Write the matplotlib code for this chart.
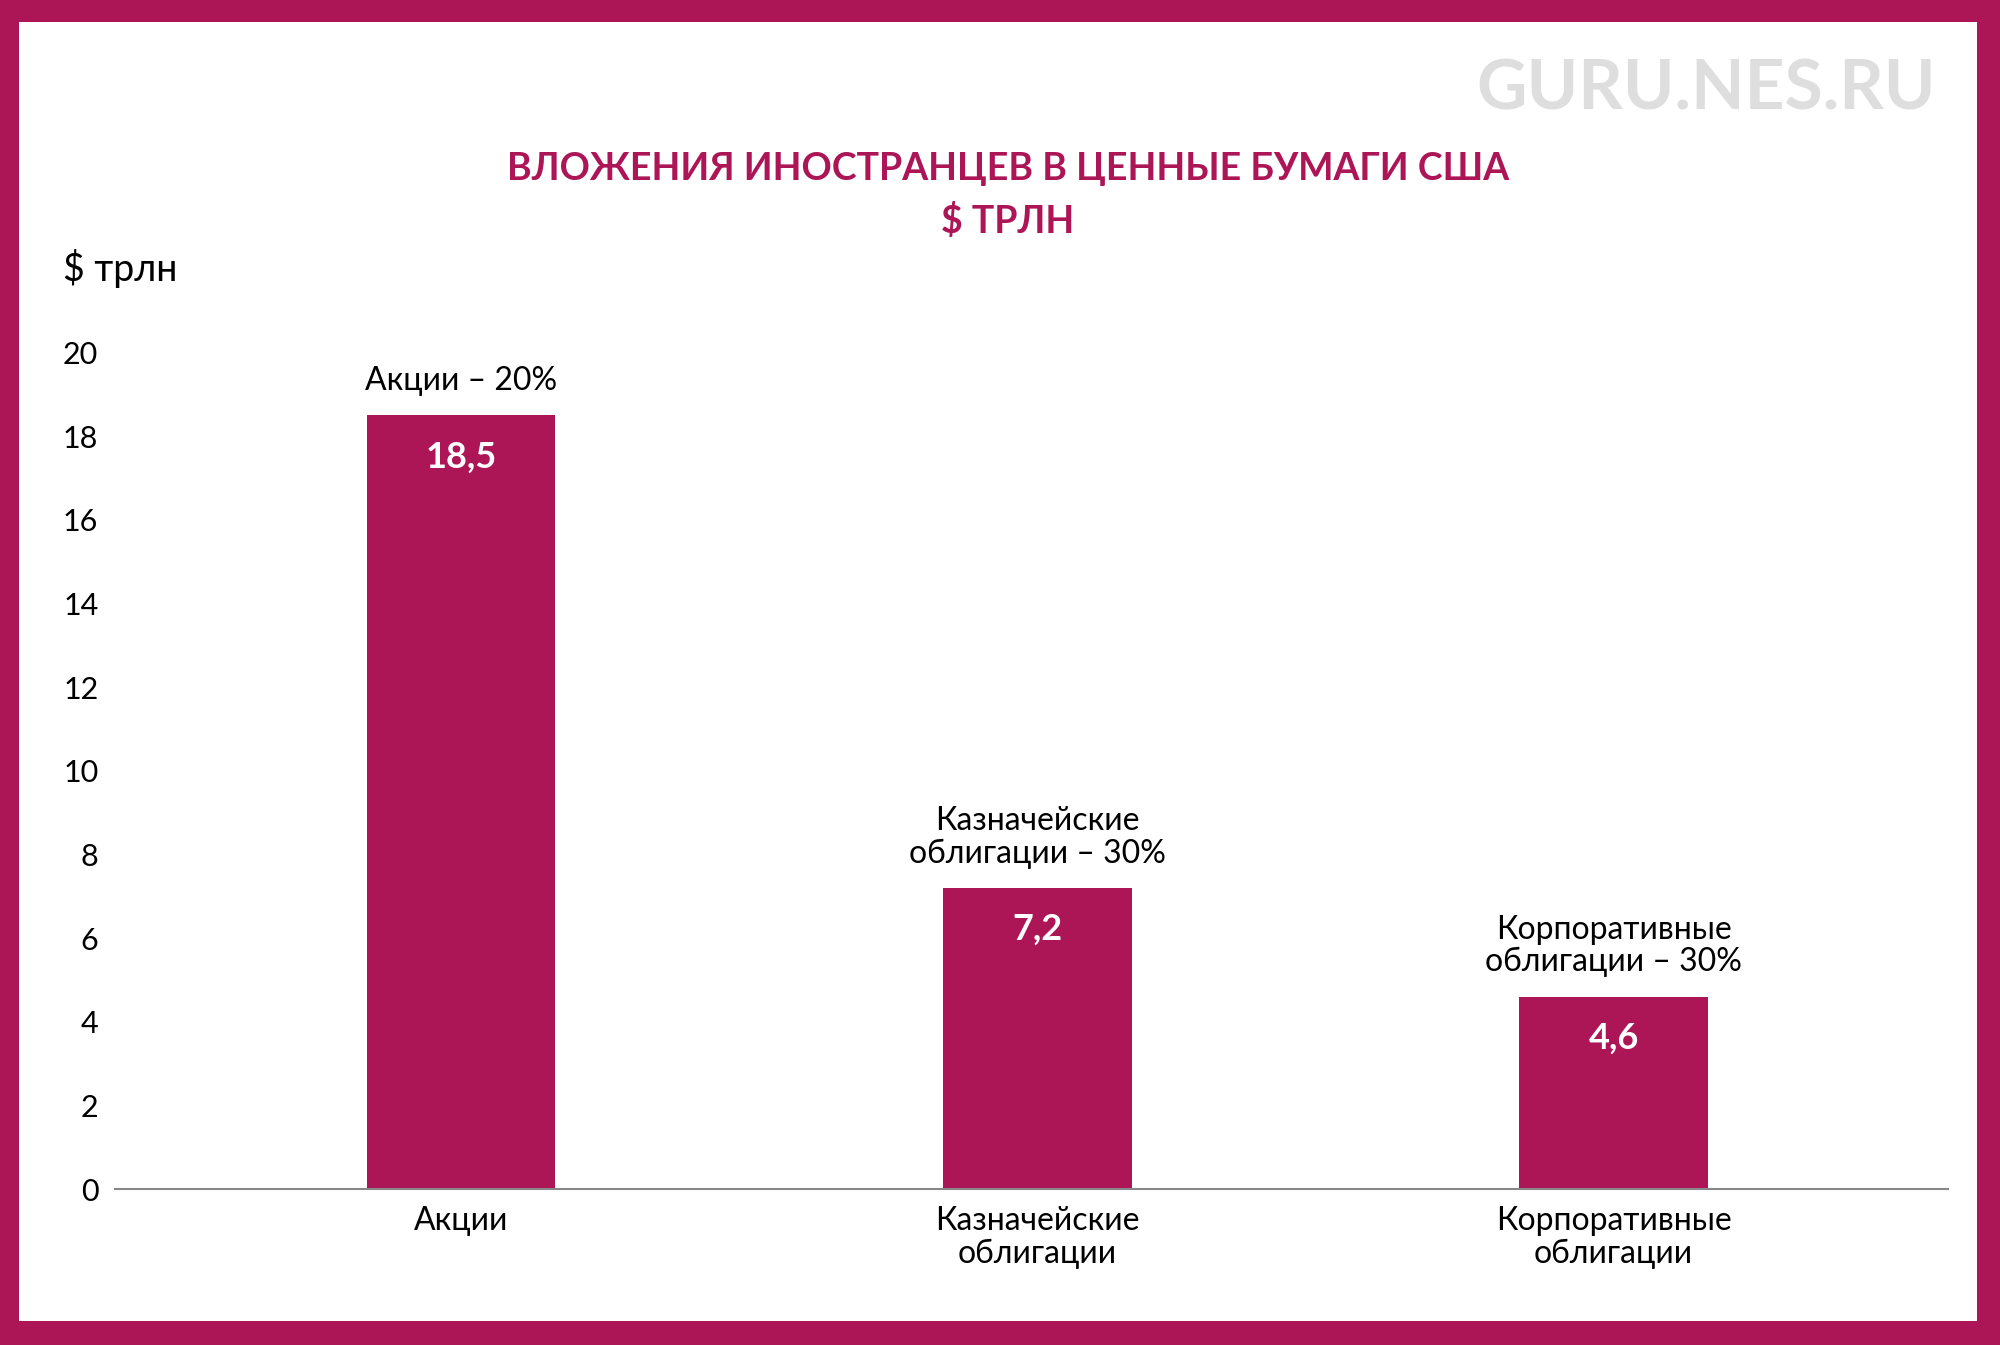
import matplotlib
matplotlib.use("Agg")
import matplotlib.pyplot as plt
from matplotlib.patches import Rectangle

categories = ["Акции", "Казначейские\nоблигации", "Корпоративные\nоблигации"]
values = [18.5, 7.2, 4.6]
value_labels = ["18,5", "7,2", "4,6"]
top_labels = ["Акции – 20%", "Казначейские\nоблигации – 30%", "Корпоративные\nоблигации – 30%"]
yticks = [0, 2, 4, 6, 8, 10, 12, 14, 16, 18, 20]

C = "#AC1656"
plt.rcParams['font.family'] = ['Lato', 'DejaVu Sans']

fig = plt.figure(figsize=(20, 13.45), dpi=100)
fig.patch.set_facecolor(C)
fig.patches.append(Rectangle((0.0095, 0.018), 0.979, 0.966, transform=fig.transFigure,
                             facecolor="white", edgecolor="none", zorder=-5))

ax = fig.add_axes([0.0575, 0.1157, 0.9165, 0.6223])
ax.set_zorder(5)
ax.set_facecolor("none")
x = list(range(len(values)))
ax.bar(x, values, width=0.327, color=C, zorder=2)
ax.set_xlim(-0.6, 2.58)
ax.set_ylim(0, 20)
ax.set_yticks(yticks)
ax.set_yticklabels([str(v) for v in yticks], fontsize=22)
ax.set_xticks(x)
ax.set_xticklabels(categories, fontsize=23, linespacing=1.1)
ax.tick_params(axis='y', length=0, pad=12)
ax.tick_params(axis='x', length=0, pad=12)
for s in ["top", "right", "left"]:
    ax.spines[s].set_visible(False)
ax.spines["bottom"].set_color("#888888")
ax.spines["bottom"].set_linewidth(1.5)

for xi, v, vl, tl in zip(x, values, value_labels, top_labels):
    ax.text(xi, v - 0.6, vl, ha="center", va="top", color="white", fontsize=26, fontweight="bold")
    ax.annotate(tl, (xi, v), xytext=(0, 14), textcoords="offset points",
                ha="center", va="bottom", fontsize=23, linespacing=1.1)

fig.text(0.06, 0.8, "$ трлн", fontsize=27, ha="center", va="center")
fig.text(0.504, 0.874, "ВЛОЖЕНИЯ ИНОСТРАНЦЕВ В ЦЕННЫЕ БУМАГИ США", color=C,
         fontsize=27, fontweight="bold", ha="center", va="center")
fig.text(0.504, 0.836, "$ ТРЛН", color=C, fontsize=27, fontweight="bold", ha="center", va="center")
fig.text(0.968, 0.933, "GURU.NES.RU", color="#DEDEDE", fontsize=50, fontweight="bold",
         ha="right", va="center")

fig.savefig("out.png", dpi=100, facecolor=fig.get_facecolor())
